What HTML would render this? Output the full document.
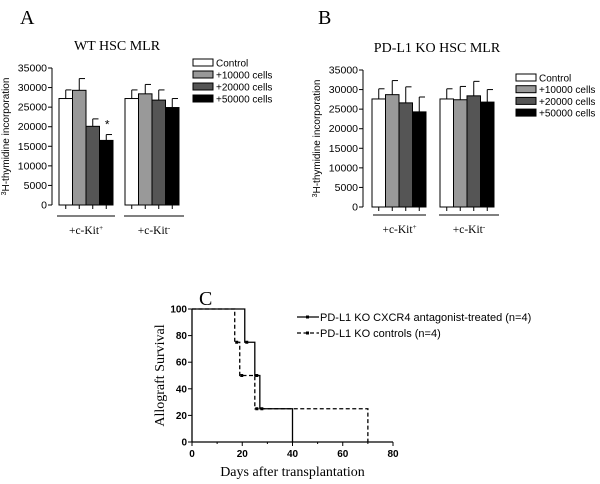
<!DOCTYPE html>
<html><head><meta charset="utf-8"><style>
body{margin:0;background:#fff}
svg{display:block}
.t{font-family:"Liberation Sans",sans-serif}
.s{font-family:"Liberation Serif",serif}
</style></head><body>
<svg id="svg" width="600" height="484" viewBox="0 0 600 484" xmlns="http://www.w3.org/2000/svg"></svg>
<script>
const seriesNames=["Control","+10000 cells","+20000 cells","+50000 cells"];
const seriesColors=["#fff","#999","#555","#000"];
const groupLabels=["+c-Kit","+c-Kit"];
const groupSups=["+","-"];
const yTicks=[0,5000,10000,15000,20000,25000,30000,35000];
const aMeans=[[27200,29300,20100,16500],[27200,28400,26800,24900]];
const aErr=[[29400,32300,22000,18000],[29400,30800,29400,27200]];
const bMeans=[[27600,28700,26600,24300],[27600,27400,28400,26800]];
const bErr=[[30200,32300,30700,28100],[30200,30800,32100,30000]];
const survDays=[0,10,20,30,40,50,60,70,80];
const survTicks=[0,20,40,60,80,100];
const treatedT=[0,21,25,27,40];
const treatedS=[100,75,50,25,0];
const controlT=[0,17,19,25,70];
const controlS=[100,75,50,25,0];
const NS="http://www.w3.org/2000/svg";
const svg=document.getElementById('svg');
function el(tag,attrs,parent,text){const e=document.createElementNS(NS,tag);for(const k in attrs)e.setAttribute(k,attrs[k]);if(text!==undefined)e.textContent=text;(parent||svg).appendChild(e);return e;}

function barPanel(cfg){
  const g=el('g',{});
  
  
  const y=v=>cfg.y0-(v/35000)*(cfg.y0-cfg.y1);
  const letter=el('text',{x:cfg.letterX,y:24,'font-size':20,class:'s'},g,cfg.letter);
  
  const title=el('text',{x:cfg.titleX,y:cfg.titleY,'font-size':14,class:'s','text-anchor':'middle'},g,cfg.title);
  
  el('line',{x1:cfg.ax,x2:cfg.ax,y1:cfg.y1,y2:cfg.y0,stroke:'#000'},g);
  yTicks.forEach(t=>{
    el('line',{x1:cfg.ax-4,x2:cfg.ax,y1:y(t),y2:y(t),stroke:'#000'},g);
    const tl=el('text',{x:cfg.ax-5,y:y(t)+3.5,'font-size':10.5,class:'t','text-anchor':'end'},g,t);
    
  });
  const yt=el('text',{transform:`translate(${cfg.ax-43},${(cfg.y0+cfg.y1)/2}) rotate(-90)`,'font-size':10,class:'t','text-anchor':'middle'},g);
  
  el('tspan',{'font-size':7,dy:-3},yt,'3');el('tspan',{dy:3},yt,'H-thymidine incorporation');
  cfg.means.forEach((grp,gi)=>{
    grp.forEach((v,i)=>{
      const x=cfg.gx[gi]+i*cfg.bw;
      const cx=x+cfg.bw/2;
      const e=cfg.err[gi][i];
      el('line',{x1:cx,x2:cx,y1:y(e),y2:y(v),stroke:'#000'},g);
      el('line',{x1:cx,x2:cx+cfg.bw/2-1,y1:y(e),y2:y(e),stroke:'#000'},g);
      const r=el('rect',{x:x,y:y(v),width:cfg.bw,height:cfg.y0-y(v),fill:seriesColors[i],stroke:'#000','stroke-width':1},g);
      
      el('line',{x1:cx,x2:cx,y1:cfg.y0,y2:cfg.y0+4,stroke:'#000'},g);
    });
    if(cfg.star&&gi===0){const s=el('text',{x:cfg.gx[0]+3.5*cfg.bw+1,y:y(cfg.err[0][3])-6,'font-size':12,class:'t','text-anchor':'middle'},g,'*');}
    el('line',{x1:cfg.ul[gi][0],x2:cfg.ul[gi][1],y1:cfg.ulY,y2:cfg.ulY,stroke:'#000'},g);
    const gl=el('text',{x:(cfg.ul[gi][0]+cfg.ul[gi][1])/2,y:cfg.ulY+18,'font-size':11.5,class:'s','text-anchor':'middle'},g);
    
    el('tspan',{},gl,groupLabels[gi]);el('tspan',{'font-size':7,dy:-4},gl,groupSups[gi]);
  });
  seriesNames.forEach((n,i)=>{
    const ly=cfg.legY+i*cfg.legDy;
    const lg=el('g',{},g);
    
    el('rect',{x:cfg.legX,y:ly-4,width:20,height:7,fill:seriesColors[i],stroke:'#000'},lg);
    el('text',{x:cfg.legX+23,y:ly+3.5,'font-size':10,class:'t'},lg,n);
  });
}
barPanel({name:'panel-a',letter:'A',letterX:20,title:'WT HSC MLR',titleX:117,titleY:50,ax:52,y0:205,y1:68,gx:[59,125],bw:13.5,means:aMeans,err:aErr,star:true,ul:[[57,115],[124,184]],ulY:216,legX:193,legY:63,legDy:12});
barPanel({name:'panel-b',letter:'B',letterX:318,title:'PD-L1 KO HSC MLR',titleX:437,titleY:52,ax:363,y0:207,y1:70,gx:[372,440],bw:13.5,means:bMeans,err:bErr,star:false,ul:[[373,426],[439,499]],ulY:215,legX:516,legY:78,legDy:11.7});

// Panel C
const gc=el('g',{});

const X=d=>192+d*(393-192)/80, Y=s=>442-s*(442-309)/100;
const lc=el('text',{x:199,y:305,'font-size':20,class:'s'},gc,'C');

el('line',{x1:X(0),x2:X(0),y1:Y(100),y2:Y(0),stroke:'#000','stroke-width':1.3},gc);
el('line',{x1:X(0),x2:X(80),y1:Y(0),y2:Y(0),stroke:'#000','stroke-width':1.3},gc);
survTicks.forEach(t=>{el('line',{x1:X(0)-4,x2:X(0),y1:Y(t),y2:Y(t),stroke:'#000'},gc);
  const tl=el('text',{x:X(0)-5,y:Y(t)+3.5,'font-size':10,'font-weight':'bold',class:'t','text-anchor':'end'},gc,t);
  });
survDays.forEach((d,i)=>{el('line',{x1:X(d),x2:X(d),y1:Y(0),y2:Y(0)+(i%2?2:4),stroke:'#000'},gc);
  if(i%2===0){const tl=el('text',{x:X(d),y:Y(0)+15,'font-size':10,'font-weight':'bold',class:'t','text-anchor':'middle'},gc,d);
  }});
const yt=el('text',{transform:`translate(${X(0)-28},${(Y(0)+Y(100))/2}) rotate(-90)`,'font-size':14,class:'s','text-anchor':'middle'},gc,'Allograft Survival');

const xt=el('text',{x:X(40),y:476,'font-size':14,class:'s','text-anchor':'middle'},gc,'Days after transplantation');

function step(T,S,dash,name){
  let d=`M${X(T[0])},${Y(S[0])}`;
  for(let i=1;i<T.length;i++){d+=` H${X(T[i])} V${Y(S[i])}`;}
  const p=el('path',{d:d,fill:'none',stroke:'#000','stroke-width':1.3,'stroke-dasharray':dash},gc);
  
  for(let i=1;i<T.length-1;i++)el('rect',{x:X(T[i])+0.5,y:Y(S[i])-1.5,width:3,height:3,fill:'#000'},gc);
}
step(controlT,controlS,'4,2.5','control-line');
step(treatedT,treatedS,'','treated-line');
const l1=el('g',{},gc);
el('line',{x1:297,x2:319,y1:317,y2:317,stroke:'#000','stroke-width':1.3},l1);
el('rect',{x:306,y:315.5,width:3,height:3,fill:'#000'},l1);
el('text',{x:320,y:321,'font-size':11,class:'t'},l1,'PD-L1 KO CXCR4 antagonist-treated (n=4)');
const l2=el('g',{},gc);
el('line',{x1:297,x2:319,y1:333,y2:333,stroke:'#000','stroke-width':1.3,'stroke-dasharray':'4,2.5'},l2);
el('rect',{x:306,y:331.5,width:3,height:3,fill:'#000'},l2);
el('text',{x:320,y:337,'font-size':11,class:'t'},l2,'PD-L1 KO controls (n=4)');
</script>
</body></html>
